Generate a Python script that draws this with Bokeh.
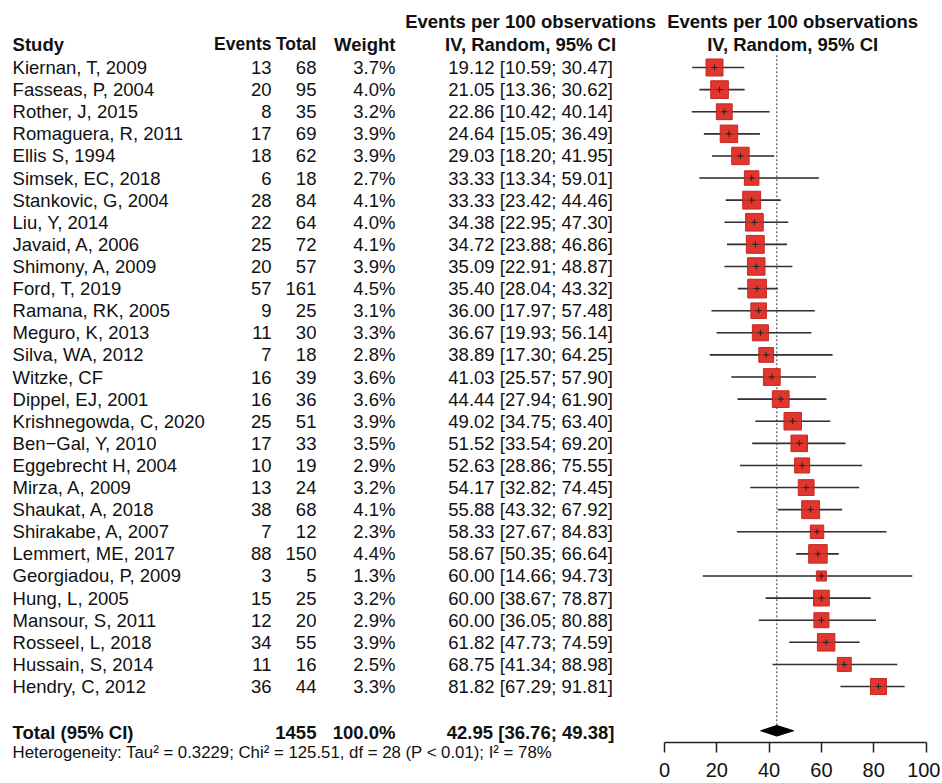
from bokeh.plotting import figure
from bokeh.models import ColumnDataSource, Range1d, LinearAxis, FixedTicker
from bokeh.core.properties import value
from bokeh.embed import file_html
from bokeh.resources import INLINE

# ---------------- data ----------------
studies = ["Kiernan, T, 2009", "Fasseas, P, 2004", "Rother, J, 2015", "Romaguera, R, 2011",
           "Ellis S, 1994", "Simsek, EC, 2018", "Stankovic, G, 2004", "Liu, Y, 2014",
           "Javaid, A, 2006", "Shimony, A, 2009", "Ford, T, 2019", "Ramana, RK, 2005",
           "Meguro, K, 2013", "Silva, WA, 2012", "Witzke, CF", "Dippel, EJ, 2001",
           "Krishnegowda, C, 2020", "Ben\u2212Gal, Y, 2010", "Eggebrecht H, 2004", "Mirza, A, 2009",
           "Shaukat, A, 2018", "Shirakabe, A, 2007", "Lemmert, ME, 2017", "Georgiadou, P, 2009",
           "Hung, L, 2005", "Mansour, S, 2011", "Rosseel, L, 2018", "Hussain, S, 2014",
           "Hendry, C, 2012"]
events = [13, 20, 8, 17, 18, 6, 28, 22, 25, 20, 57, 9, 11, 7, 16, 16, 25, 17, 10, 13,
          38, 7, 88, 3, 15, 12, 34, 11, 36]
totals = [68, 95, 35, 69, 62, 18, 84, 64, 72, 57, 161, 25, 30, 18, 39, 36, 51, 33, 19, 24,
          68, 12, 150, 5, 25, 20, 55, 16, 44]
weights = [3.7, 4.0, 3.2, 3.9, 3.9, 2.7, 4.1, 4.0, 4.1, 3.9, 4.5, 3.1, 3.3, 2.8, 3.6, 3.6,
           3.9, 3.5, 2.9, 3.2, 4.1, 2.3, 4.4, 1.3, 3.2, 2.9, 3.9, 2.5, 3.3]
est = [19.12, 21.05, 22.86, 24.64, 29.03, 33.33, 33.33, 34.38, 34.72, 35.09, 35.40, 36.00,
       36.67, 38.89, 41.03, 44.44, 49.02, 51.52, 52.63, 54.17, 55.88, 58.33, 58.67, 60.00,
       60.00, 60.00, 61.82, 68.75, 81.82]
lo = [10.59, 13.36, 10.42, 15.05, 18.20, 13.34, 23.42, 22.95, 23.88, 22.91, 28.04, 17.97,
      19.93, 17.30, 25.57, 27.94, 34.75, 33.54, 28.86, 32.82, 43.32, 27.67, 50.35, 14.66,
      38.67, 36.05, 47.73, 41.34, 67.29]
hi = [30.47, 30.62, 40.14, 36.49, 41.95, 59.01, 44.46, 47.30, 46.86, 48.87, 43.32, 57.48,
      56.14, 64.25, 57.90, 61.90, 63.40, 69.20, 75.55, 74.45, 67.92, 84.83, 66.64, 94.73,
      78.87, 80.88, 74.59, 88.98, 91.81]
total_n = 1455
total_weight = 100.0
total_est = 42.95
total_lo = 36.76
total_hi = 49.38
heterogeneity = "Heterogeneity: Tau\u00b2 = 0.3229; Chi\u00b2 = 125.51, df = 28 (P < 0.01); I\u00b2 = 78%"
axis_ticks = [0, 20, 40, 60, 80, 100]
col_headers = ["Study", "Events", "Total", "Weight"]
ci_header = ["Events per 100 observations", "IV, Random, 95% CI"]

# ---------------- layout ----------------
FONT = "Liberation Sans"
FS = "18.5px"
FS_HDR = "17.5px"
n = len(studies)
rows = list(range(n))
total_row = n + 1

X_STUDY = -249.3
X_EVENTS = -150.3
X_TOTAL = -133.1
X_WEIGHT = -102.9
X_CI = -51.2
X_FOREST = 49.0

p = figure(width=940, height=780, output_backend="svg", toolbar_location=None,
           x_range=Range1d(-253.92, 105.54), y_range=Range1d(32.25, -3.031),
           x_axis_location=None, y_axis_location=None,
           min_border_left=0, min_border_right=0, min_border_top=0, min_border_bottom=0)
p.xgrid.visible = False
p.ygrid.visible = False
p.outline_line_color = None
p.background_fill_color = "white"
p.border_fill_color = "white"

def txt(src, x, align, bold=False, size=FS, col="text"):
    p.text(x=x, y="y", text=col, source=src, text_align=align, text_baseline="middle",
           text_font=value(FONT), text_font_size=size,
           text_font_style="bold" if bold else "normal", text_color="#111111")

# headers
hdr = ColumnDataSource(dict(y=[-1.05], s=[col_headers[0]], e=[col_headers[1]],
                            t=[col_headers[2]], w=[col_headers[3]]))
txt(hdr, X_STUDY, "left", True, col="s")
txt(hdr, X_EVENTS, "right", True, size=FS_HDR, col="e")
txt(hdr, X_TOTAL, "right", True, size=FS_HDR, col="t")
txt(hdr, X_WEIGHT, "right", True, col="w")
for xx in (X_CI, X_FOREST):
    h2 = ColumnDataSource(dict(y=[-2.08, -1.05], text=ci_header))
    txt(h2, xx, "center", True)

# study rows
src = ColumnDataSource(dict(
    y=rows, study=studies,
    ev=[str(v) for v in events], tot=[str(v) for v in totals],
    wt=[f"{w:.1f}%" for w in weights],
    ci=[f"{e:.2f} [{l:.2f}; {h:.2f}]" for e, l, h in zip(est, lo, hi)],
    est=est, lo=lo, hi=hi,
    size=[8.84 * (w ** 0.5) for w in weights],
))
txt(src, X_STUDY, "left", col="study")
txt(src, X_EVENTS, "right", col="ev")
txt(src, X_TOTAL, "right", col="tot")
txt(src, X_WEIGHT, "right", col="wt")
txt(src, X_CI, "center", col="ci")

# total row
tsrc = ColumnDataSource(dict(y=[total_row + 0.1], lab=["Total (95% CI)"], tot=[str(total_n)],
                             wt=[f"{total_weight:.1f}%"],
                             ci=[f"{total_est:.2f} [{total_lo:.2f}; {total_hi:.2f}]"]))
txt(tsrc, X_STUDY, "left", True, col="lab")
txt(tsrc, X_TOTAL, "right", True, col="tot")
txt(tsrc, X_WEIGHT, "right", True, col="wt")
txt(tsrc, X_CI, "center", True, col="ci")

het = ColumnDataSource(dict(y=[total_row + 0.97], text=[heterogeneity]))
txt(het, X_STUDY, "left", size="16.8px")

# forest: reference line at pooled estimate
p.segment(x0=[total_est], x1=[total_est], y0=[-0.55], y1=[total_row - 0.25],
          line_color="#555555", line_width=1.2, line_dash="2 2")

# CI lines, squares, centre marks
p.segment(x0="lo", x1="hi", y0="y", y1="y", source=src, line_color="#333333", line_width=1.6)
p.scatter(x="est", y="y", size="size", marker="square", source=src,
          fill_color="#E0362E", line_color="#C42A23", line_width=1)
p.segment(x0="lo", x1="hi", y0="y", y1="y", source=src, line_color="#333333",
          line_width=1.0, line_alpha=0.35)
p.scatter(x="est", y="y", size=6, marker="cross", source=src, line_color="#222222",
          line_width=1)

# pooled diamond
dh = 0.24
p.patch(x=[total_lo, total_est, total_hi, total_est],
        y=[total_row, total_row - dh, total_row, total_row + dh],
        fill_color="black", line_color="black")

# axis (drawn at a fixed data location inside the frame)
ax = LinearAxis(bounds=(0, 100), ticker=FixedTicker(ticks=axis_ticks), fixed_location=30.53)
ax.axis_line_width = 1.5
ax.axis_line_color = "#222222"
ax.major_tick_line_width = 1.5
ax.major_tick_line_color = "#222222"
ax.major_tick_in = 0
ax.major_tick_out = 10
ax.minor_tick_in = 0
ax.minor_tick_out = 0
ax.major_label_standoff = 11
ax.major_label_text_font = FONT
ax.major_label_text_font_size = "20px"
ax.major_label_text_color = "#111111"
p.add_layout(ax, "below")

open("out.html", "w").write(file_html(p, INLINE))
